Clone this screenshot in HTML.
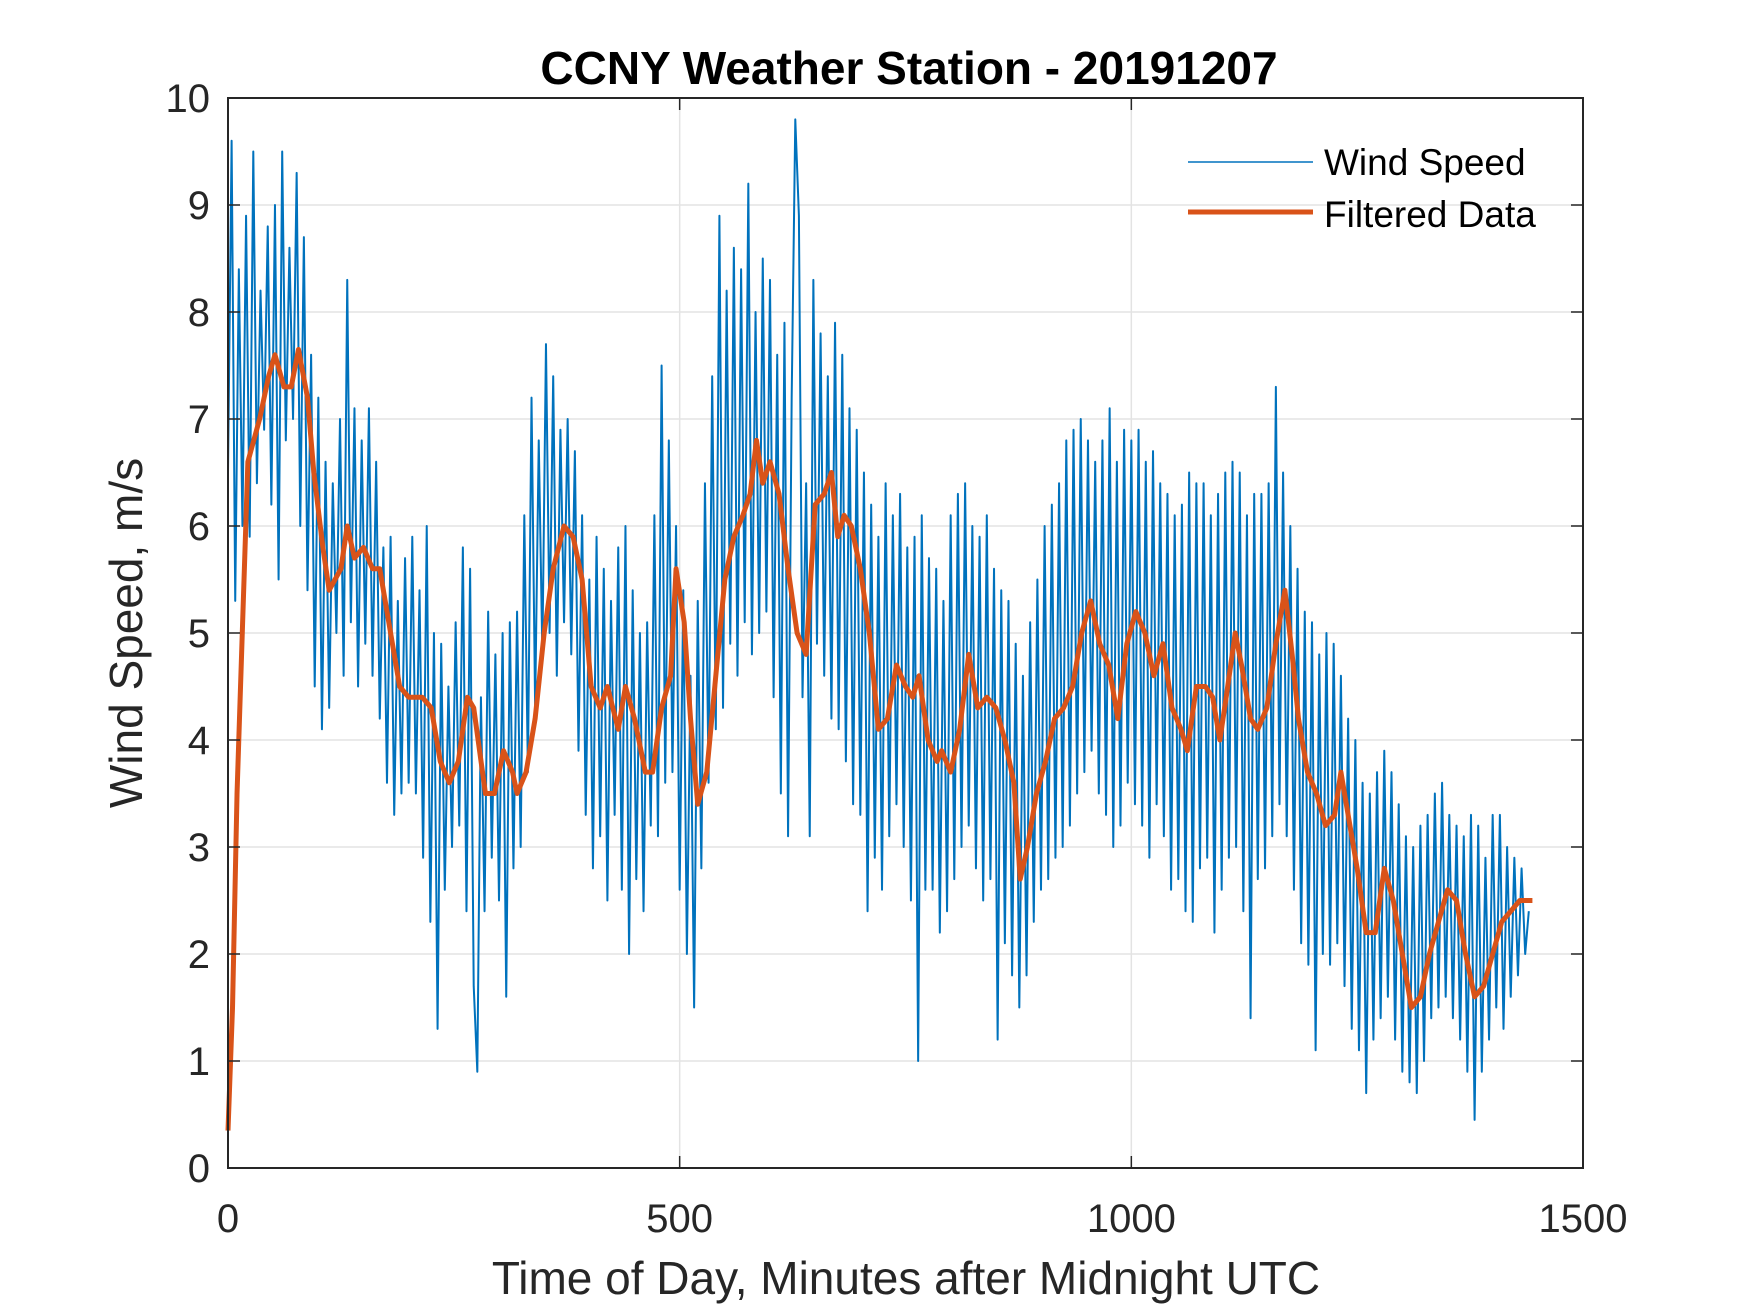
<!DOCTYPE html>
<html><head><meta charset="utf-8"><style>
body{margin:0;background:#fff;}
svg{display:block;font-family:"Liberation Sans",Arial,sans-serif;}
</style></head><body>
<svg id="chart" width="1750" height="1313" viewBox="0 0 1750 1313">
<rect width="1750" height="1313" fill="#fff"/>
<rect x="228" y="98" width="1355" height="1070" fill="#fff"/>
<g id="grid"></g>
<g id="series"></g>
<g id="axes"></g>
<text x="909" y="84" text-anchor="middle" font-size="46" font-weight="bold" fill="#000">CCNY Weather Station - 20191207</text>
<text x="906" y="1294" text-anchor="middle" font-size="46" fill="#262626">Time of Day, Minutes after Midnight UTC</text>
<text transform="translate(142,633) rotate(-90)" text-anchor="middle" font-size="46" fill="#262626">Wind Speed, m/s</text>
<g>
<g>
<line x1="1188" y1="162" x2="1313" y2="162" stroke="#0072BD" stroke-width="1.5"/>
<text x="1324" y="175" font-size="37" fill="#000">Wind Speed</text></g>
<g>
<line x1="1188" y1="212" x2="1313" y2="212" stroke="#D95319" stroke-width="5"/>
<text x="1324" y="227" font-size="37" fill="#000">Filtered Data</text></g>
</g>
</svg>
<script>
const xTicks=[0,500,1000,1500];
const yTicks=[0,1,2,3,4,5,6,7,8,9,10];
const rawStep=4;
const rawValues=[6.5,9.6,5.3,8.4,6.0,8.9,5.9,9.5,6.4,8.2,
6.9,8.8,6.2,9.0,5.5,9.5,6.8,8.6,7.0,9.3,
6.0,8.7,5.4,7.6,4.5,7.2,4.1,6.6,4.3,6.4,
5.0,7.0,4.6,8.3,5.1,7.1,4.5,6.8,4.9,7.1,
4.6,6.6,4.2,5.8,3.6,5.9,3.3,5.3,3.5,5.7,
3.6,5.9,3.5,5.4,2.9,6.0,2.3,5.0,1.3,4.9,
2.6,4.5,3.0,5.1,3.2,5.8,2.4,5.6,1.7,0.9,
4.4,2.4,5.2,2.9,4.8,2.5,5.0,1.6,5.1,2.8,
5.2,3.0,6.1,3.7,7.2,4.3,6.8,4.8,7.7,5.0,
7.4,4.6,6.9,5.1,7.0,4.8,6.7,3.9,6.1,3.3,
5.5,2.8,5.9,3.1,5.6,2.5,5.3,3.3,5.8,2.6,
6.0,2.0,5.4,2.7,5.0,2.4,5.1,3.2,6.1,3.1,
7.5,3.6,6.8,3.7,6.0,2.6,5.4,2.0,4.6,1.5,
5.3,2.8,6.4,3.6,7.4,4.1,8.9,4.3,8.2,4.9,
8.6,4.6,8.4,5.1,9.2,4.8,8.0,5.0,8.5,5.2,
8.3,4.4,7.6,3.5,7.9,3.1,7.2,9.8,8.9,4.4,
6.4,3.1,8.3,4.9,7.8,4.6,7.4,4.2,7.9,4.1,
7.6,3.8,7.1,3.4,6.9,3.3,6.5,2.4,6.2,2.9,
5.9,2.6,6.4,3.1,6.1,3.4,6.3,3.0,5.8,2.5,
5.9,1.0,6.1,2.6,5.7,2.6,5.6,2.2,5.3,2.4,
6.1,2.7,6.3,3.0,6.4,3.2,6.0,2.8,5.9,2.5,
6.1,2.7,5.6,1.2,5.4,2.1,5.3,1.8,4.9,1.5,
4.6,1.8,5.1,2.3,5.5,2.6,6.0,2.7,6.2,2.9,
6.4,3.0,6.8,3.2,6.9,3.5,7.0,3.7,6.8,3.9,
6.6,3.5,6.8,3.3,7.1,3.0,6.6,3.2,6.9,3.6,
6.8,3.4,6.9,3.2,6.6,2.9,6.7,3.4,6.4,3.1,
6.3,2.6,6.1,2.7,6.2,2.4,6.5,2.3,6.4,2.8,
6.4,2.9,6.1,2.2,6.3,2.6,6.5,2.9,6.6,3.0,
6.5,2.4,6.1,1.4,6.3,2.7,6.3,2.8,6.4,3.1,
7.3,3.4,6.5,3.1,6.0,2.6,5.6,2.1,5.2,1.9,
5.1,1.1,4.8,2.0,5.0,1.9,4.9,2.1,4.6,1.7,
4.2,1.3,4.0,1.1,3.6,0.7,3.5,1.2,3.7,1.4,
3.9,1.6,3.7,1.2,3.4,0.9,3.1,0.8,3.0,0.7,
3.2,1.0,3.3,1.4,3.5,1.5,3.6,1.6,3.3,1.4,
3.2,1.2,3.1,0.9,3.3,0.45,3.2,0.9,2.9,1.2,
3.3,1.5,3.3,1.3,3.0,1.6,2.9,1.8,2.8,2.0,
2.4];
const filtTimes=[0,5,10,22,35,45,52,62,70,78,88,95,105,112,125,132,140,150,160,168,180,190,200,215,225,235,245,255,265,272,285,295,305,315,320,330,340,350,360,372,382,392,402,412,420,432,440,450,462,470,480,490,496,505,512,520,530,540,550,560,570,578,585,592,600,610,620,630,640,650,660,668,675,682,690,700,710,720,730,740,750,758,765,775,785,790,800,810,820,830,840,850,860,870,877,885,895,905,915,925,935,945,955,965,975,985,995,1005,1015,1025,1035,1045,1055,1062,1072,1082,1090,1098,1105,1115,1122,1132,1140,1150,1160,1170,1178,1185,1195,1205,1215,1225,1232,1240,1250,1260,1270,1280,1290,1300,1310,1320,1330,1340,1350,1360,1370,1380,1390,1400,1410,1420,1430,1444];
const filtValues=[0.35,1.5,3.5,6.6,7.0,7.4,7.6,7.3,7.3,7.65,7.2,6.5,5.8,5.4,5.6,6.0,5.7,5.8,5.6,5.6,5.0,4.5,4.4,4.4,4.3,3.8,3.6,3.8,4.4,4.3,3.5,3.5,3.9,3.7,3.5,3.7,4.2,5.0,5.6,6.0,5.9,5.5,4.5,4.3,4.5,4.1,4.5,4.2,3.7,3.7,4.3,4.6,5.6,5.1,4.2,3.4,3.7,4.6,5.5,5.9,6.1,6.3,6.8,6.4,6.6,6.3,5.6,5.0,4.8,6.2,6.3,6.5,5.9,6.1,6.0,5.6,5.0,4.1,4.2,4.7,4.5,4.4,4.6,4.0,3.8,3.9,3.7,4.1,4.8,4.3,4.4,4.3,4.0,3.6,2.7,3.0,3.5,3.8,4.2,4.3,4.5,5.0,5.3,4.9,4.7,4.2,4.9,5.2,5.0,4.6,4.9,4.3,4.1,3.9,4.5,4.5,4.4,4.0,4.4,5.0,4.7,4.2,4.1,4.3,4.9,5.4,4.8,4.2,3.7,3.5,3.2,3.3,3.7,3.3,2.8,2.2,2.2,2.8,2.5,2.0,1.5,1.6,2.0,2.3,2.6,2.5,2.0,1.6,1.7,2.0,2.3,2.4,2.5,2.5];

const NS='http://www.w3.org/2000/svg';
const L=228,R=1583,T=98,B=1168;
const xs=v=>L+(v-0)/(1500-0)*(R-L);
const ys=v=>B-(v-0)/(10-0)*(B-T);
function mk(tag,attrs,parent){const e=document.createElementNS(NS,tag);for(const k in attrs)e.setAttribute(k,attrs[k]);parent.appendChild(e);return e;}
const grid=document.getElementById('grid'),axes=document.getElementById('axes'),series=document.getElementById('series');
xTicks.forEach(v=>{
  const g=mk('line',{x1:xs(v),x2:xs(v),y1:T,y2:B,stroke:'#e3e3e3','stroke-width':1.5},grid);
  
  
  mk('line',{x1:xs(v),x2:xs(v),y1:B,y2:B-12,stroke:'#262626','stroke-width':1.5},axes);
  mk('line',{x1:xs(v),x2:xs(v),y1:T,y2:T+12,stroke:'#262626','stroke-width':1.5},axes);
  const t=mk('text',{x:xs(v),y:1232,'text-anchor':'middle','font-size':40,fill:'#262626'},axes);
  t.textContent=v;
  
  
});
yTicks.forEach(v=>{
  const g=mk('line',{x1:L,x2:R,y1:ys(v),y2:ys(v),stroke:'#e3e3e3','stroke-width':1.5},grid);
  
  
  mk('line',{x1:L,x2:L+12,y1:ys(v),y2:ys(v),stroke:'#262626','stroke-width':1.5},axes);
  mk('line',{x1:R,x2:R-12,y1:ys(v),y2:ys(v),stroke:'#262626','stroke-width':1.5},axes);
  const t=mk('text',{x:210,y:ys(v)+14,'text-anchor':'end','font-size':40,fill:'#262626'},axes);
  t.textContent=v;
  
  
});
const box=mk('rect',{x:L,y:T,width:R-L,height:B-T,fill:'none',stroke:'#262626','stroke-width':2},axes);


const raw=mk('polyline',{points:rawValues.map((v,i)=>xs(i*rawStep)+','+ys(v)).join(' '),fill:'none',stroke:'#0072BD','stroke-width':2,'stroke-linejoin':'round'},series);


const filt=mk('polyline',{points:filtValues.map((v,i)=>xs(filtTimes[i])+','+ys(v)).join(' '),fill:'none',stroke:'#D95319','stroke-width':5,'stroke-linejoin':'round'},series);


</script>
</body></html>
